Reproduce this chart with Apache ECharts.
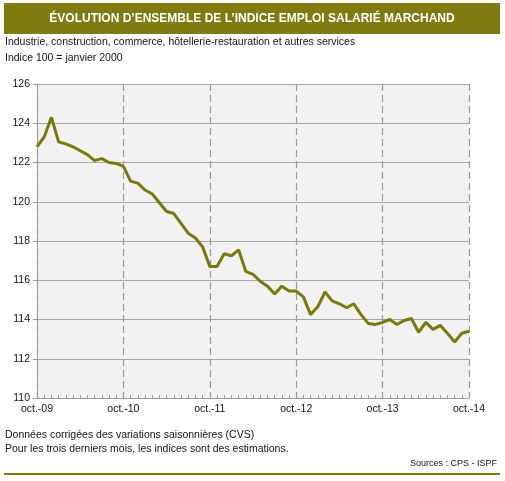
<!DOCTYPE html>
<html>
<head>
<meta charset="utf-8">
<title>Indice emploi salarié marchand</title>
<script src="https://cdn.jsdelivr.net/npm/echarts@6/dist/echarts.min.js"></script>
<style>
    html, body { margin: 0; padding: 0; background: #fff; }
    #main { width: 505px; height: 481px; }
</style>
</head>
<body>
<div id="main"></div>
<script>
// mois (abréviations), le libellé n'est affiché qu'en octobre
var moisNoms = ["oct.", "nov.", "déc.", "janv.", "févr.", "mars", "avr.", "mai", "juin", "juil.", "août", "sept."];
// indice 100 = janvier 2000, de oct.-09 à oct.-14
var indice = [
    122.8, 123.3, 124.3, 123.05, 122.95, 122.8, 122.6, 122.4, 122.1, 122.2, 122.0, 121.95,
    121.8, 121.05, 120.95, 120.6, 120.4, 119.95, 119.5, 119.4, 118.9, 118.4, 118.15, 117.7,
    116.7, 116.7, 117.35, 117.25, 117.55, 116.45, 116.3, 115.95, 115.7, 115.3, 115.7, 115.45,
    115.45, 115.15, 114.25, 114.65, 115.4, 114.95, 114.8, 114.6, 114.8, 114.25, 113.8, 113.75,
    113.85, 114.0, 113.75, 113.95, 114.05, 113.35, 113.85, 113.5, 113.7, 113.3, 112.85, 113.3,
    113.4
];
var yMin = 110, yMax = 126, yPas = 2;

var olive = "#7f7b0e";
var police = "Liberation Sans";

// libellés des catégories : "oct.-09" ... "oct.-14"
var categories = [];
for (var i = 0; i < indice.length; i++) {
    var an = 9 + Math.floor((i + 9) / 12);
    categories.push(moisNoms[i % 12] + "-" + (an < 10 ? "0" + an : an));
}

var myChart = echarts.init(document.getElementById("main"), null, { renderer: "canvas" });
var option = {
    animation: false,
    backgroundColor: "#fff",
    textStyle: { fontFamily: police },
    graphic: [
        // bandeau du titre
        { type: "rect", shape: { x: 4, y: 3, width: 496, height: 31 }, style: { fill: olive } },
        { type: "text", x: 252, y: 19, style: { text: "ÉVOLUTION D’ENSEMBLE DE L’INDICE EMPLOI SALARIÉ MARCHAND", fill: "#fff", font: "bold 12px " + police, textAlign: "center", textVerticalAlign: "middle" } },
        { type: "text", x: 5, y: 42, style: { text: "Industrie, construction, commerce, hôtellerie-restauration et autres services", fill: "#111", font: "10.5px " + police, textVerticalAlign: "middle" } },
        { type: "text", x: 5, y: 58, style: { text: "Indice 100 = janvier 2000", fill: "#111", font: "10.5px " + police, textVerticalAlign: "middle" } },
        // notes du bas
        { type: "text", x: 5, y: 435, style: { text: "Données corrigées des variations saisonnières (CVS)", fill: "#111", font: "10.5px " + police, textVerticalAlign: "middle" } },
        { type: "text", x: 5, y: 449, style: { text: "Pour les trois derniers mois, les indices sont des estimations.", fill: "#111", font: "10.5px " + police, textVerticalAlign: "middle" } },
        { type: "text", x: 497, y: 464, style: { text: "Sources : CPS - ISPF", fill: "#111", font: "9px " + police, textAlign: "right", textVerticalAlign: "middle" } },
        { type: "rect", shape: { x: 4, y: 473, width: 496, height: 2 }, style: { fill: olive } }
    ],
    grid: {
        left: 37, right: 36, top: 84, bottom: 83,
        show: true, backgroundColor: "#f2f2f2", borderWidth: 0
    },
    xAxis: {
        type: "category",
        data: categories,
        boundaryGap: false,
        axisLine: { lineStyle: { color: "#999", width: 1 } },
        axisTick: { show: true, inside: true, length: 3, interval: 0, lineStyle: { color: "#999" } },
        axisLabel: { interval: 11, color: "#111", fontSize: 10.5, margin: 6, fontFamily: police },
        splitLine: {
            show: true,
            interval: function (idx) { return idx % 12 === 0; },
            lineStyle: { color: "#999", width: 1.2, type: [7, 4] }
        }
    },
    yAxis: {
        type: "value",
        min: yMin, max: yMax, interval: yPas,
        axisLine: { show: true, lineStyle: { color: "#999" } },
        axisTick: { show: true, length: 4, lineStyle: { color: "#999" } },
        axisLabel: { color: "#111", fontSize: 10.5, margin: 7, fontFamily: police },
        splitLine: { show: true, lineStyle: { color: "#a6a6a6", width: 1 } }
    },
    series: [{
        name: "Indice",
        type: "line",
        data: indice,
        symbol: "none",
        smooth: false,
        lineStyle: { color: "#7a780f", width: 3 }
    }]
};
myChart.setOption(option);
</script>
</body>
</html>
